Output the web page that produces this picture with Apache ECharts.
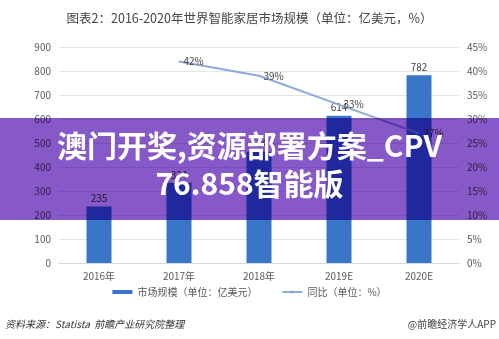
<!DOCTYPE html>
<html>
<head>
<meta charset="utf-8">
<script src="https://cdn.jsdelivr.net/npm/echarts@6/dist/echarts.min.js"></script>
<style>html,body{margin:0;padding:0;background:#fff}#c{width:499px;height:339px}</style>
</head>
<body>
<div id="c"></div>
<script>
const categories = ['2016年', '2017年', '2018年', '2019E', '2020E'];
const marketSize = [235, 334, 464, 614, 782];
const yoyGrowth = ['-', 0.42, 0.39, 0.33, 0.27];
const leftTicks = { min: 0, max: 900, interval: 100 };
const rightTicks = { min: 0, max: 0.45, interval: 0.05 };
const titleText = '图表2：2016-2020年世界智能家居市场规模（单位：亿美元，%）';
const seriesNames = ['市场规模（单位：亿美元）', '同比（单位：%）'];
const sourceText = '资料来源：Statista  前瞻产业研究院整理';
const brandText = '@前瞻经济学人APP';
const bannerLines = ['澳门开奖,资源部署方案_CPV', '76.858智能版'];

const pct = v => Math.round(v * 100) + '%';
const chart = echarts.init(document.getElementById('c'));
const font = '"Microsoft YaHei","Noto Sans CJK SC",sans-serif';
chart.setOption({
  animation: false,
  textStyle: { fontFamily: font },
  title: { text: titleText, left: 'center', top: 7, textStyle: { fontSize: 12.5, fontWeight: 'normal', color: '#444' } },
  grid: { left: 59, right: 40, top: 47, bottom: 76 },
  legend: {
    bottom: 37, left: 'center', itemGap: 24, itemWidth: 20, itemHeight: 4,
    textStyle: { fontSize: 10, color: '#595959' },
    data: [{ name: seriesNames[0], icon: 'rect' }, { name: seriesNames[1] }]
  },
  xAxis: {
    type: 'category', data: categories,
    axisLine: { lineStyle: { color: '#d9d9d9' } }, axisTick: { show: false },
    axisLabel: { color: '#595959', fontSize: 10, margin: 8 }
  },
  yAxis: [{
    type: 'value', min: leftTicks.min, max: leftTicks.max, interval: leftTicks.interval,
    axisLine: { show: false }, axisTick: { show: false },
    splitLine: { lineStyle: { color: '#e4e4e4' } },
    axisLabel: { color: '#595959', fontSize: 10, margin: 8 }
  }, {
    type: 'value', min: rightTicks.min, max: rightTicks.max, interval: rightTicks.interval,
    axisLine: { show: false }, axisTick: { show: false }, splitLine: { show: false },
    axisLabel: { color: '#595959', fontSize: 10, margin: 8, formatter: pct }
  }],
  series: [{
    name: seriesNames[0], type: 'bar', data: marketSize, barWidth: 25,
    itemStyle: { color: '#3a76c8' },
    label: { show: true, position: 'top', color: '#404040', fontSize: 10, distance: 3 }
  }, {
    name: seriesNames[1], type: 'line', yAxisIndex: 1, data: yoyGrowth,
    symbol: 'circle', symbolSize: 1, showSymbol: true,
    lineStyle: { color: '#8ea9db', width: 2 }, itemStyle: { color: '#8ea9db' },
    label: { show: true, position: 'right', distance: 4, color: '#404040', fontSize: 10, formatter: p => pct(p.value) }
  }],
  graphic: [
    { type: 'text', left: 5, top: 319, style: { text: sourceText, font: 'italic 10px ' + font, fill: '#333' } },
    { type: 'text', right: 3, top: 319, style: { text: brandText, font: '10px ' + font, fill: '#444' } },
    { type: 'rect', left: 0, top: 118, shape: { width: 499, height: 102 }, style: { fill: 'rgb(134,88,200)', blend: 'multiply' }, z: 100 },
    { type: 'text', left: 'center', top: 131, z: 101, style: { text: bannerLines[0], font: 'bold 30px "Noto Sans CJK SC",sans-serif', fill: '#fff', shadowColor: 'rgba(0,0,0,0.4)', shadowBlur: 2, shadowOffsetX: 1, shadowOffsetY: 1 } },
    { type: 'text', left: 'center', top: 169, z: 101, style: { text: bannerLines[1], font: 'bold 30px "Noto Sans CJK SC",sans-serif', fill: '#fff', shadowColor: 'rgba(0,0,0,0.4)', shadowBlur: 2, shadowOffsetX: 1, shadowOffsetY: 1 } }
  ]
});
</script>
</body>
</html>
